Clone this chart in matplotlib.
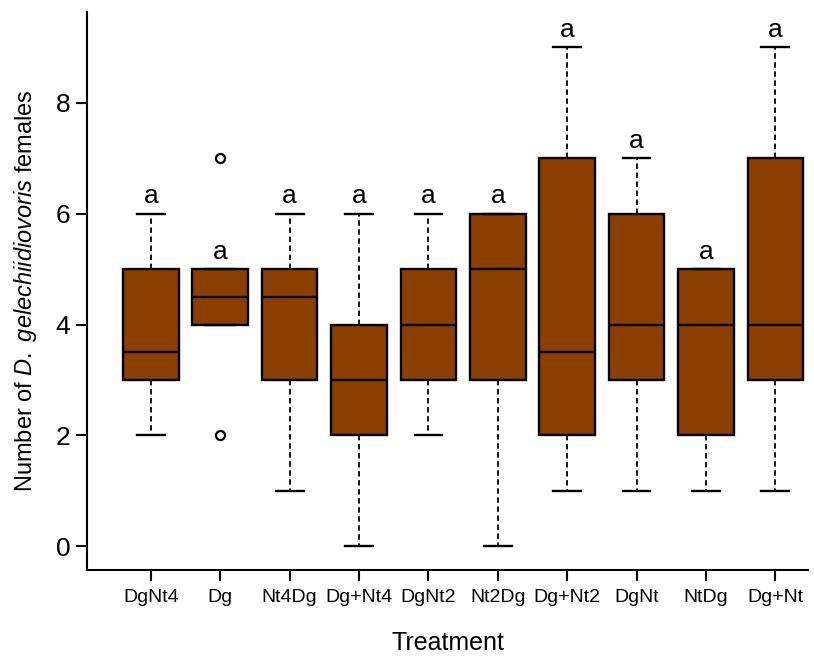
import matplotlib
matplotlib.use("Agg")
import matplotlib.pyplot as plt

plt.rcParams['font.family'] = ['Liberation Sans', 'DejaVu Sans']
plt.rcParams['mathtext.fontset'] = 'custom'
plt.rcParams['mathtext.rm'] = 'Liberation Sans'
plt.rcParams['mathtext.it'] = 'Liberation Sans:italic'

treatments = ["DgNt4", "Dg", "Nt4Dg", "Dg+Nt4", "DgNt2", "Nt2Dg", "Dg+Nt2", "DgNt", "NtDg", "Dg+Nt"]
whisker_low = [2, 4, 1, 0, 2, 0, 1, 1, 1, 1]
q1 = [3, 4, 3, 2, 3, 3, 2, 3, 2, 3]
medians = [3.5, 4.5, 4.5, 3, 4, 5, 3.5, 4, 4, 4]
q3 = [5, 5, 5, 4, 5, 6, 7, 6, 5, 7]
whisker_high = [6, 5, 6, 6, 6, 6, 9, 7, 5, 9]
outliers = [[], [2, 7], [], [], [], [], [], [], [], []]
letters = ["a"] * 10

stats = []
for i in range(len(treatments)):
    stats.append({
        "label": treatments[i],
        "whislo": whisker_low[i], "q1": q1[i], "med": medians[i],
        "q3": q3[i], "whishi": whisker_high[i], "fliers": outliers[i],
    })

fig = plt.figure(figsize=(8.14, 6.6), dpi=100)
ax = fig.add_axes([0.1069, 0.1364, 0.8857, 0.8454])

box_color = "#8B3F00"
pos = list(range(1, len(treatments) + 1))
ax.bxp(stats, positions=pos, widths=0.8, patch_artist=True, showcaps=True,
       boxprops=dict(facecolor=box_color, edgecolor="black", linewidth=1.7),
       medianprops=dict(color="black", linewidth=1.7),
       whiskerprops=dict(color="black", linewidth=1.3, linestyle=(0, (3, 2))),
       capprops=dict(color="black", linewidth=1.7),
       capwidths=0.4,
       flierprops=dict(marker="o", markerfacecolor="white", markeredgecolor="black",
                       markersize=6.5, markeredgewidth=1.6))

# significance letters above the top of each box / whisker
for i, lab in enumerate(letters):
    top = max(whisker_high[i], q3[i])
    ax.text(pos[i], top + 0.1, lab, ha="center", va="bottom", fontsize=19)

ax.set_xlim(0.08, 10.47)
ax.set_ylim(-0.43, 9.64)
ax.set_yticks([0, 2, 4, 6, 8])
ax.set_xticks(pos)
ax.set_xticklabels(treatments, fontsize=14)
ax.tick_params(axis="y", labelsize=19, length=8, width=1.5, pad=4)
ax.tick_params(axis="x", length=8, width=1.5, pad=6)

for s in ["top", "right"]:
    ax.spines[s].set_visible(False)
for s in ["left", "bottom"]:
    ax.spines[s].set_linewidth(1.5)

ax.set_xlabel("Treatment", fontsize=18, labelpad=18)
ax.set_ylabel("Number of $\\it{D.\\ gelechiidiovoris}$ females", fontsize=17, labelpad=12)

fig.savefig("out.png", dpi=100)
